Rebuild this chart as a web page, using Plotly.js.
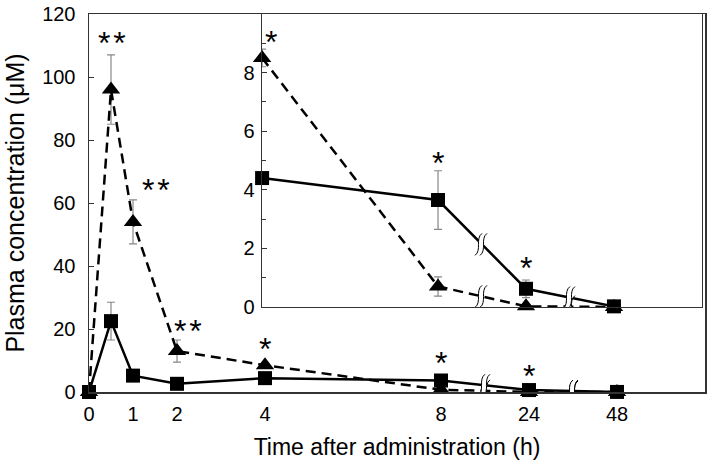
<!DOCTYPE html>
<html>
<head>
<meta charset="utf-8">
<script src="https://cdn.plot.ly/plotly-3.0.1.min.js"></script>
<style>html,body{margin:0;padding:0;background:#fff;}#chart{width:709px;height:468px;}</style>
</head>
<body>
<div id="chart"></div>
<script>
// ---- data ----
const times      = [0, 0.5, 1, 2, 4, 8, 24, 48];        // h
const axisPos    = [0, 0.5, 1, 2, 4, 8, 10, 12];        // broken-axis position of each time
const tickVals   = [0, 1, 2, 4, 8, 10, 12];
const tickText   = ['0', '1', '2', '4', '8', '24', '48'];
const yTicks     = [0, 20, 40, 60, 80, 100, 120];
const yTicksInset = [0, 2, 4, 6, 8];
const triMean    = [0, 96, 54, 13, 8.5, 0.7, 0.02, 0];
const triErr     = [0, 11, 7, 3.5, 0.3, 0.33, 0, 0];
const sqMean     = [0, 22.5, 5.2, 2.6, 4.4, 3.65, 0.62, 0.02];
const sqErr      = [0, 6, 0, 0, 0, 1.0, 0.3, 0];
// significance marks: index, series, label
const starMainIdx    = [1, 2, 3, 4, 5, 6];
const starMainSeries = ['tri', 'tri', 'tri', 'tri', 'sq', 'sq'];
const starMainText   = ['*\u200A*', '*\u200A*', '*\u200A*', '*', '*', '*'];
const starInsetIdx    = [4, 5, 6];
const starInsetSeries = ['tri', 'sq', 'sq'];
const starInsetText   = ['*', '*', '*'];
const insetFrom = 4; // inset shows times from index 4 on

// label placement (pixels)
const starMainDx = [1, 23, 11, 0, 0, 0];
const starMainDy = [-8, -10, -11, -5, -6, -7];
const starInsetDx = [9, 0, 0];
const starInsetDy = [-13, -12, -8];

const FONT = 'Liberation Sans, Arial, sans-serif';
const AX = '#333';

function sub(a) { return a.slice(insetFrom); }

const triStyle = {marker: {symbol: 'triangle-up', size: 16, color: '#000'}, line: {color: '#000', width: 2.5, dash: '10px,6px'}};
const sqStyle  = {marker: {symbol: 'square', size: 14, color: '#000'}, line: {color: '#000', width: 2.5}};
const errStyle = (arr) => ({type: 'data', array: arr, visible: true, color: '#888', thickness: 1.2, width: 4});

const traces = [
  Object.assign({x: axisPos, y: sqMean, error_y: errStyle(sqErr), xaxis: 'x', yaxis: 'y', mode: 'lines+markers', cliponaxis: false}, sqStyle),
  Object.assign({x: axisPos, y: triMean, error_y: errStyle(triErr), xaxis: 'x', yaxis: 'y', mode: 'lines+markers', cliponaxis: false}, triStyle),
  Object.assign({x: sub(axisPos), y: sub(sqMean), error_y: errStyle(sub(sqErr)), xaxis: 'x2', yaxis: 'y2', mode: 'lines+markers', cliponaxis: false}, sqStyle),
  Object.assign({x: sub(axisPos), y: sub(triMean), error_y: errStyle(sub(triErr)), xaxis: 'x2', yaxis: 'y2', mode: 'lines+markers', cliponaxis: false}, triStyle)
];

// axis-break marks on the line segments 8->24 and 24->48
function breakMarks(xref, yref, xs, ys) {
  const out = [];
  for (let i = 5; i < xs.length - 1; i++) {
    const bx = (xs[i] + xs[i + 1]) / 2;
    const by = (ys[i] + ys[i + 1]) / 2;
    const base = {xref: xref, yref: yref, xsizemode: 'pixel', ysizemode: 'pixel', xanchor: bx, yanchor: by, layer: 'above'};
    out.push(Object.assign({type: 'path', path: 'M -7 -11 C 0 -6 -7 6 0 11 L 5 11 C -2 6 5 -6 -2 -11 Z', fillcolor: '#fff', line: {width: 0}}, base));
    out.push(Object.assign({type: 'path', path: 'M -7 -11 C 0 -6 -7 6 0 11', line: {color: '#000', width: 1}}, base));
    out.push(Object.assign({type: 'path', path: 'M -2 -11 C 5 -6 -2 6 5 11', line: {color: '#000', width: 1}}, base));
  }
  return out;
}
const shapes = [].concat(
  breakMarks('x', 'y', axisPos, triMean), breakMarks('x', 'y', axisPos, sqMean),
  breakMarks('x2', 'y2', axisPos, triMean), breakMarks('x2', 'y2', axisPos, sqMean)
);

function stars(xref, yref, idx, series, text, dx, dy) {
  return idx.map((k, j) => {
    const m = series[j] === 'tri' ? triMean : sqMean;
    const e = series[j] === 'tri' ? triErr : sqErr;
    return {xref: xref, yref: yref, x: axisPos[k], y: m[k] + e[k], text: text[j], showarrow: false,
            xanchor: 'center', yanchor: 'bottom', xshift: dx[j], yshift: dy[j],
            font: {family: FONT, size: 32, color: '#000'}};
  });
}
const annotations = [].concat(
  stars('x', 'y', starMainIdx, starMainSeries, starMainText, starMainDx, starMainDy),
  stars('x2', 'y2', starInsetIdx, starInsetSeries, starInsetText, starInsetDx, starInsetDy)
);

const tickFont = {family: FONT, size: 20, color: '#000'};
const layout = {
  width: 709, height: 468,
  margin: {l: 89, r: 4, t: 14, b: 76},
  paper_bgcolor: '#fff', plot_bgcolor: '#fff',
  showlegend: false,
  font: {family: FONT, size: 20, color: '#000'},
  xaxis: {domain: [0, 1], range: [0, 14], tickvals: tickVals, ticktext: tickText, ticks: '', tickfont: tickFont,
          showgrid: false, zeroline: false, showline: true, linecolor: AX, linewidth: 1.5, mirror: true,
          ticklabelstandoff: 3,
          title: {text: 'Time after administration (h)', font: {family: FONT, size: 23}, standoff: 15}},
  yaxis: {domain: [0, 1], range: [0, 120], tickvals: yTicks, ticks: 'inside', ticklen: 5, tickfont: tickFont,
          tickcolor: AX, showgrid: false, zeroline: false, showline: true, linecolor: AX, linewidth: 1.5, mirror: true,
          ticklabelstandoff: 8,
          title: {text: 'Plasma concentration (μM)', font: {family: FONT, size: 25}, standoff: 10}},
  xaxis2: {domain: [0.281, 0.995], range: [4, 14], anchor: 'y2', showticklabels: false, ticks: '',
           showgrid: false, zeroline: false, showline: true, linecolor: AX, linewidth: 1.5, mirror: true},
  yaxis2: {domain: [0.225, 1], range: [0, 10], anchor: 'x2', tickvals: yTicksInset, ticks: 'inside', ticklen: 5, tickfont: tickFont,
           tickcolor: AX, showgrid: false, zeroline: false, showline: true, linecolor: AX, linewidth: 1.5, mirror: true,
           ticklabelstandoff: 2,
           minor: {tickvals: [1, 3, 5, 7, 9], ticks: 'inside', ticklen: 4, tickcolor: AX}},
  shapes: shapes,
  annotations: annotations
};

Plotly.newPlot('chart', traces, layout, {staticPlot: true});
</script>
</body>
</html>
